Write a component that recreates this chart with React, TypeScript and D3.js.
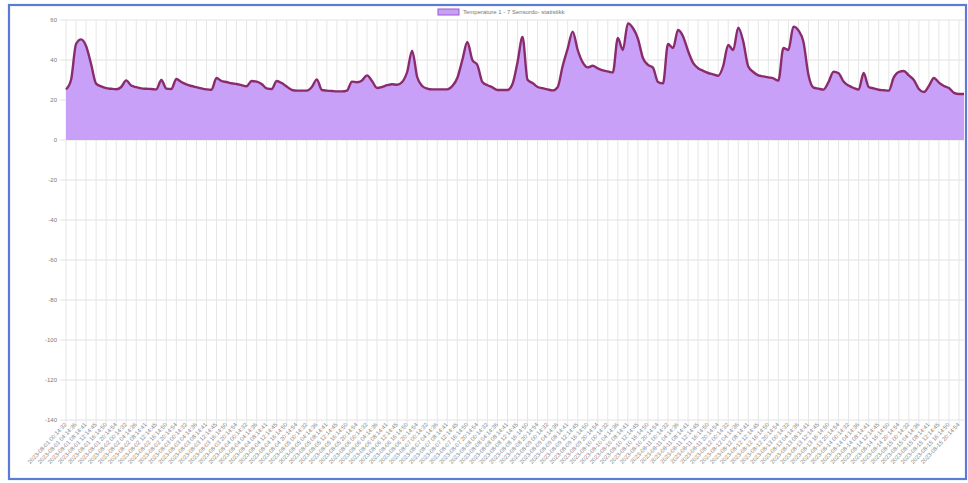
import React from "react";
import * as d3 from "d3";

const legendLabel = "Temperature 1 - 7 Sensordo- statistikk";

const days = [
  "2023-08-01", "2023-08-02", "2023-08-03", "2023-08-04", "2023-08-05",
  "2023-08-06", "2023-08-07", "2023-08-08", "2023-08-09", "2023-08-10",
  "2023-08-11", "2023-08-12", "2023-08-13", "2023-08-14", "2023-08-15",
];
const times = ["00:14:32", "04:14:36", "08:14:41", "12:14:45", "16:14:50", "20:14:54"];

const yTicks = [60, 40, 20, 0, -20, -40, -60, -80, -100, -120, -140];

// temperature readings (one value per sample, a label on every second sample)
const temps = [
  25.3, 30, 48, 50.3, 47, 38, 28.2, 26.8, 25.9, 25.6,
  25.4, 26.5, 29.8, 27.2, 26.4, 25.8, 25.6, 25.5, 25.3, 30,
  25.7, 25.5, 30.5, 29, 27.8, 27, 26.4, 25.8, 25.3, 25.1,
  31, 29.5, 29, 28.4, 28, 27.4, 26.9, 29.5, 29.2, 28,
  25.8, 25.5, 29.5, 28.5, 26.7, 25.1, 24.7, 24.7, 24.7, 26.5,
  30.3, 25, 24.7, 24.5, 24.3, 24.3, 24.7, 29.2, 28.9, 29.8,
  32.3, 29.5, 26, 26.5, 27.4, 27.9, 27.6, 29, 34, 44.7,
  31.5, 27, 25.7, 25.3, 25.3, 25.3, 25.3, 27, 31, 40,
  49, 40, 37.5, 29, 27.4, 26.3, 25, 25, 25, 28,
  38.9, 51.5, 30.1, 28.5, 26.5, 25.9, 25.3, 24.8, 26.4, 37,
  45.7, 54.2, 45, 38.8, 36.3, 37.1, 35.8, 34.8, 34.3, 33.8,
  51, 45, 58.3, 56, 50.7, 41, 37.6, 36.2, 29, 28.3,
  48, 46, 55, 51.8, 44.5, 38.6, 35.9, 34.6, 33.5, 32.8,
  32.1, 37, 47.5, 45, 56.2, 49.2, 36.7, 34, 32.3, 31.8,
  31.3, 30.8, 29.7, 46, 45, 56.7, 54.8, 49, 32.5, 26.2,
  25.7, 25.2, 29, 34.1, 33.4, 29.2, 27.2, 26, 25.2, 33.5,
  26.5, 25.8, 25.1, 24.9, 24.7, 31.3, 34, 34.5, 32.3, 30,
  25.5, 24, 27, 31, 28.7, 27, 26, 23.6, 23, 23,
];

const W = 968;
const H = 483;
const left = 66;
const right = 964;
const top = 20;
const bottom = 420;

export default function App() {
  const labels = days.flatMap((d) => times.map((t) => `${d} ${t}`));
  const x = d3.scaleLinear().domain([0, temps.length - 1]).range([left, right]);
  const y = d3.scaleLinear().domain([-140, 60]).range([bottom, top]);

  const area = d3
    .area<number>()
    .x((_, i) => x(i))
    .y0(y(0))
    .y1((d) => y(d))
    .curve(d3.curveMonotoneX);
  const line = d3
    .line<number>()
    .x((_, i) => x(i))
    .y((d) => y(d))
    .curve(d3.curveMonotoneX);

  const tickIdx = labels.map((_, k) => k * 2).filter((i) => i < temps.length);

  return (
    <div style={{ position: "fixed", left: 0, top: 0, width: W, height: H, background: "#fff" }}>
      <svg width={W} height={H} style={{ display: "block", fontFamily: "Liberation Sans, Arial, sans-serif" }}>
        <rect x={0} y={0} width={W} height={H} fill="#fff" />
        {/* horizontal grid */}
        {yTicks.map((t) => (
          <g key={"y" + t}>
            <line x1={60} x2={right} y1={y(t)} y2={y(t)} stroke="#e2e2e2" strokeWidth={1} />
            <text x={57} y={y(t)} dy="0.35em" textAnchor="end" fontSize={6} fill="#777">
              {t}
            </text>
          </g>
        ))}
        {/* vertical grid */}
        {tickIdx.map((i) => (
          <line key={"v" + i} x1={x(i)} x2={x(i)} y1={top} y2={bottom + 6} stroke="#e6e6e6" strokeWidth={1} />
        ))}
        <path d={area(temps) || ""} fill="#c9a0f7" />
        <path d={line(temps) || ""} fill="none" stroke="#8a2b6c" strokeWidth={2.4} strokeLinejoin="round" />
        {/* x labels */}
        {tickIdx.map((i, k) => (
          <text
            key={"xl" + i}
            transform={`translate(${x(i) + 1},${bottom + 5}) rotate(-47)`}
            textAnchor="end"
            fontSize={5.8}
            fill="#8a8a8a"
          >
            {labels[k]}
          </text>
        ))}
        {/* legend */}
        <rect x={438} y={9} width={21} height={6} fill="#c9a0f7" stroke="#9b59d0" strokeWidth={1} />
        <text x={463} y={12} dy="0.35em" fontSize={6} fill="#777">
          {legendLabel}
        </text>
        {/* frame */}
        <rect x={9} y={5} width={957} height={474} fill="none" stroke="#5b7bd5" strokeWidth={2.2} />
      </svg>
    </div>
  );
}
